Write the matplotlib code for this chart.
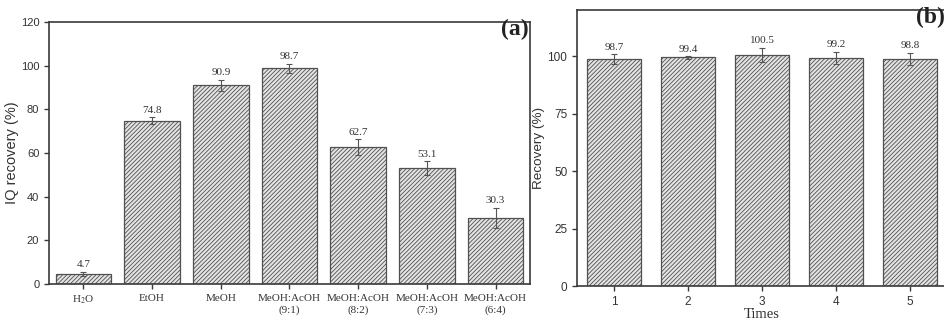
import numpy as np
import matplotlib
matplotlib.use("Agg")
from matplotlib import pyplot as plt

# panel (a): solvent screening
solvents = ["H$_2$O", "EtOH", "MeOH", "MeOH:AcOH\n(9:1)", "MeOH:AcOH\n(8:2)",
            "MeOH:AcOH\n(7:3)", "MeOH:AcOH\n(6:4)"]
iq_recovery = [4.7, 74.8, 90.9, 98.7, 62.7, 53.1, 30.3]
iq_err = [1.0, 1.5, 2.5, 2.0, 3.5, 3.0, 4.5]

# panel (b): reuse cycles
times = [1, 2, 3, 4, 5]
recovery = [98.7, 99.4, 100.5, 99.2, 98.8]
rec_err = [2.0, 0.5, 3.0, 2.5, 2.5]

plt.rcParams['hatch.linewidth'] = 0.6
plt.rcParams['hatch.color'] = '#9a9a9a'
plt.rcParams['mathtext.fontset'] = 'stix'

serif = ['Liberation Serif', 'DejaVu Serif']
sans = ['Liberation Sans', 'DejaVu Sans']
dark = '#3a3a3a'


def style_axes(ax, size):
    for s in ax.spines.values():
        s.set_color(dark)
        s.set_linewidth(1.2)
    ax.tick_params(direction='out', length=3.5, width=1.0, color=dark, labelcolor='#333333')
    for lab in ax.get_yticklabels():
        lab.set_family(sans)
        lab.set_fontsize(size)


def draw_bars(ax, x, vals, errs, width):
    ax.bar(x, vals, width=width, color='#e4e4e4', edgecolor='#505050', linewidth=0.9,
           hatch='////////', zorder=2)
    ax.errorbar(x, vals, yerr=errs, fmt='none', ecolor='#555555', elinewidth=0.8,
                capsize=2, capthick=0.8, zorder=3)
    for xi, v, e in zip(x, vals, errs):
        ax.annotate("{:.1f}".format(v), (xi, v + e), xytext=(0, 2), textcoords='offset points',
                    ha='center', va='bottom', fontsize=8, family=serif, color='#333333')


fig = plt.figure(figsize=(9.44, 3.2), dpi=100)

# (a)
ax = fig.add_axes([0.0519, 0.1125, 0.5095, 0.819])
xa = np.arange(len(solvents))
draw_bars(ax, xa, iq_recovery, iq_err, 0.81)
ax.set_xlim(-0.5, 6.5)
ax.set_ylim(0, 120)
ax.set_yticks(np.arange(0, 121, 20))
ax.set_xticks(xa)
ax.set_xticklabels(solvents, family=serif, fontsize=8, linespacing=1.3)
ax.set_ylabel("IQ recovery (%)", family=sans, fontsize=10.5, color='#333333')
ax.yaxis.set_label_coords(-0.062, 0.5)
style_axes(ax, 8)
ax.text(0.998, 1.01, "(a)", transform=ax.transAxes, ha='right', va='top',
        fontsize=17, fontweight='bold', family=serif, color='#222222')

# (b)
ax = fig.add_axes([0.6112, 0.106, 0.392, 0.8625])
draw_bars(ax, times, recovery, rec_err, 0.72)
ax.set_xlim(0.5, 5.5)
ax.set_ylim(0, 120)
ax.set_yticks([0, 25, 50, 75, 100])
ax.set_xticks(times)
for lab in ax.get_xticklabels():
    lab.set_family(sans)
    lab.set_fontsize(8.5)
ax.set_xlabel("Times", family=serif, fontsize=10.5, color='#333333', labelpad=0)
ax.set_ylabel("Recovery (%)", family=sans, fontsize=9.7, color='#333333')
ax.yaxis.set_label_coords(-0.086, 0.5)
style_axes(ax, 8.5)
ax.text(0.995, 1.01, "(b)", transform=ax.transAxes, ha='right', va='top',
        fontsize=17, fontweight='bold', family=serif, color='#222222')

fig.savefig("out.png", dpi=100)
